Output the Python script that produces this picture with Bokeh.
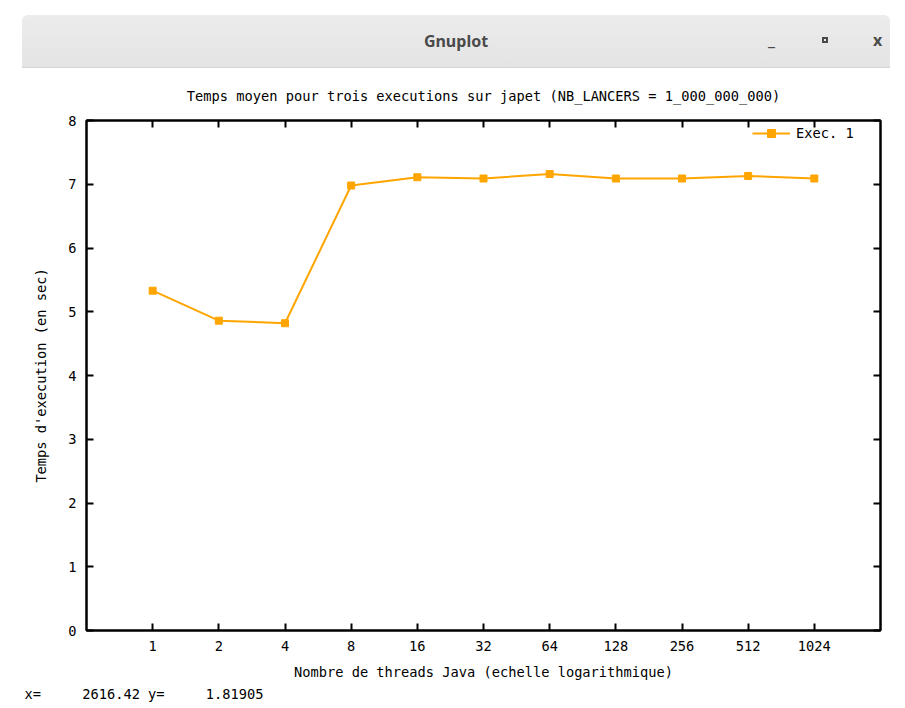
from bokeh.plotting import figure
from bokeh.models import (FixedTicker, LogAxis, LinearAxis, Range1d, Legend,
                          LegendItem, Title, Div)
from bokeh.layouts import column
from bokeh.embed import file_html
from bokeh.resources import INLINE

# ---- data ----
threads = [1, 2, 4, 8, 16, 32, 64, 128, 256, 512, 1024]
exec1 = [5.33, 4.86, 4.82, 6.98, 7.11, 7.09, 7.16, 7.09, 7.09, 7.13, 7.09]
x_tick_labels = ["1", "2", "4", "8", "16", "32", "64", "128", "256", "512", "1024"]
y_ticks = [0, 1, 2, 3, 4, 5, 6, 7, 8]

TITLE = "Temps moyen pour trois executions sur japet (NB_LANCERS = 1_000_000_000)"
XLABEL = "Nombre de threads Java (echelle logarithmique)"
YLABEL = "Temps d'execution (en sec)"
STATUS = "x=\u00a0\u00a0\u00a0\u00a0\u00a02616.42 y=\u00a0\u00a0\u00a0\u00a0\u00a01.81905"

MONO = "DejaVu Sans Mono"
FS = "13.7px"
ORANGE = "#FFA500"

p = figure(
    x_axis_type="log",
    x_range=Range1d(0.5, 2048),
    y_range=Range1d(0, 8),
    frame_width=794, frame_height=510,
    width=897, height=632,
    min_border_left=86, min_border_right=17,
    min_border_top=52, min_border_bottom=62,
    output_backend="svg", toolbar_location=None,
    background_fill_color="white", border_fill_color="white",
)

p.title.text = TITLE
p.title.align = "center"
p.title.text_font = MONO
p.title.text_font_size = FS
p.title.text_font_style = "normal"
p.title.text_color = "black"
p.title.standoff = 34

p.grid.visible = False
p.outline_line_color = "black"
p.outline_line_width = 2
p.outline_line_alpha = 1

# bottom axis
xa = p.xaxis[0]
xa.ticker = FixedTicker(ticks=threads)
xa.major_label_overrides = {t: lab for t, lab in zip(threads, x_tick_labels)}
xa.axis_label = XLABEL
# left axis
ya = p.yaxis[0]
ya.ticker = FixedTicker(ticks=y_ticks)
ya.axis_label = YLABEL

for ax in (xa, ya):
    ax.axis_line_width = 2
    ax.major_tick_in = 7
    ax.major_tick_out = 0
    ax.major_tick_line_width = 2
    ax.minor_tick_line_color = None
    ax.major_label_text_font = MONO
    ax.major_label_text_font_size = FS
    ax.major_label_text_color = "black"
    ax.axis_label_text_font = MONO
    ax.axis_label_text_font_size = FS
    ax.axis_label_text_font_style = "normal"
    ax.axis_label_text_color = "black"
xa.major_label_standoff = 10
xa.axis_label_standoff = 10
ya.major_label_standoff = 10
ya.axis_label_standoff = 16

# mirrored ticks (top and right), no labels
top = LogAxis(ticker=FixedTicker(ticks=threads),
              major_label_overrides={t: "" for t in threads})
right = LinearAxis(ticker=FixedTicker(ticks=y_ticks),
                   major_label_overrides={t: "" for t in y_ticks})
for ax in (top, right):
    ax.axis_line_width = 2
    ax.major_tick_in = 7
    ax.major_tick_out = 0
    ax.major_tick_line_width = 2
    ax.minor_tick_line_color = None
    ax.major_label_standoff = 0
    ax.major_label_text_font_size = "1px"
p.add_layout(top, "above")
p.add_layout(right, "right")

# data
ln = p.line(threads, exec1, line_color=ORANGE, line_width=2)
pts = p.scatter(threads, exec1, marker="square", size=7,
                fill_color=ORANGE, line_color=ORANGE)

legend = Legend(items=[LegendItem(label="Exec. 1", renderers=[ln, pts])],
                location=(666, 487), border_line_color=None,
                background_fill_alpha=0, label_text_font=MONO,
                label_text_font_size=FS, label_text_color="black",
                glyph_width=38, margin=0, padding=4, label_standoff=6)
p.add_layout(legend)

# status line of the gnuplot window
status = Title(text=STATUS, align="left", text_font=MONO,
               text_font_size=FS, text_font_style="normal",
               text_color="black", offset=-62, standoff=2)
p.add_layout(status, "below")

bar = Div(
    text=(
        '<div style="position:relative;width:868px;height:53px;'
        'background:linear-gradient(#ececec,#e4e4e4);border-radius:6px 6px 0 0;'
        'border-bottom:1px solid #d6d6d6;'
        'font-family:\'Noto Sans\',sans-serif;color:#4a4a4a;">'
        '<span style="position:absolute;left:0;right:0;top:15px;text-align:center;'
        'font-weight:bold;font-size:16px;">Gnuplot</span>'
        '<span style="position:absolute;left:746px;top:12px;font-weight:bold;font-size:17px;">_</span>'
        '<span style="position:absolute;left:800px;top:22px;width:6px;height:6px;'
        'border:2px solid #4a4a4a;"></span>'
        '<span style="position:absolute;left:851px;top:14px;font-weight:bold;font-size:16px;">x</span>'
        '</div>'
    ),
    width=868, height=53, margin=(15, 0, 0, 22),
)

layout = column(bar, p, spacing=0)
open("out.html", "w").write(file_html(layout, INLINE))
